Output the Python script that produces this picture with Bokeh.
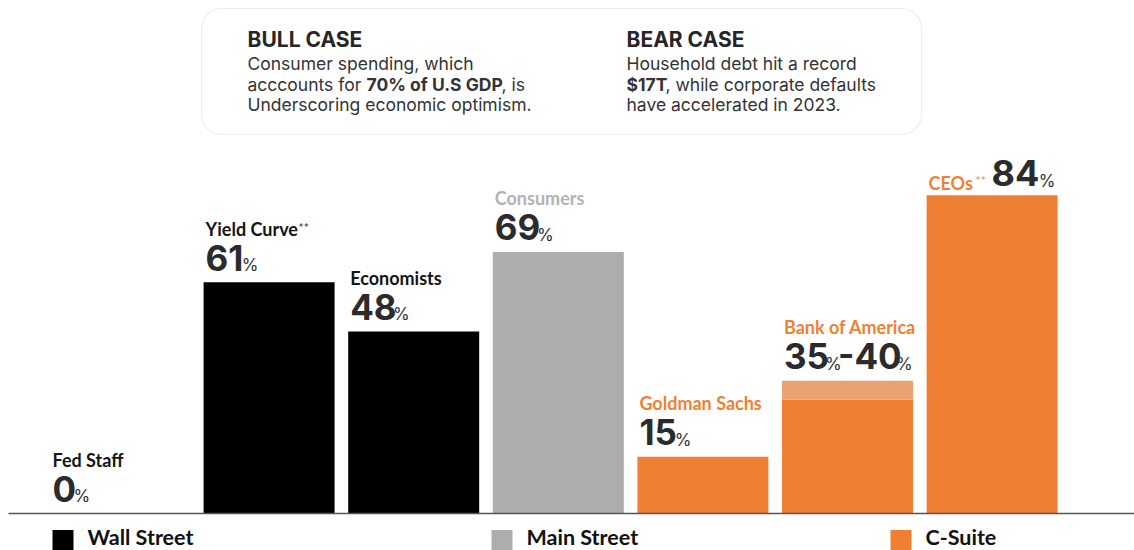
from bokeh.plotting import figure
from bokeh.models import Range1d, BoxAnnotation
from bokeh.core.properties import value
from bokeh.embed import file_html
from bokeh.resources import INLINE

# ---------------- data ----------------
categories = ["Fed Staff", "Yield Curve", "Economists", "Consumers",
              "Goldman Sachs", "Bank of America", "CEOs"]
groups = ["Wall Street", "Wall Street", "Wall Street", "Main Street",
          "C-Suite", "C-Suite", "C-Suite"]
values = [0, 61, 48, 69, 15, 35, 84]          # stated recession probability (%)
bofa_high = 40                                 # upper end of Bank of America range
bar_heights = [0, 61, 48, 69, 15, 30, 84]      # bar heights as drawn in the picture
bofa_bar_high = 35                             # top of the light BofA range segment
starred = ["Yield Curve", "CEOs"]
legend_labels = ["Wall Street", "Main Street", "C-Suite"]
group_colors = {"Wall Street": "#000000", "Main Street": "#adadac", "C-Suite": "#ee7f33"}
label_colors = {"Wall Street": "#151515", "Main Street": "#b3b3b3", "C-Suite": "#ee8133"}
range_color = "#eba172"

bull_title = "BULL CASE"
bull_lines = [["Consumer spending, which"],
              ["acccounts for ", "70% of U.S GDP", ", is"],
              ["Underscoring economic optimism."]]
bull_bold = [[False], [False, True, False], [False]]
bear_title = "BEAR CASE"
bear_lines = [["Household debt hit a record"],
              ["$17T", ", while corporate defaults"],
              ["have accelerated in 2023."]]
bear_bold = [[False], [True, False], [False]]

# ---------------- layout constants ----------------
W, H = 1134, 550
K = 3.79          # px per percentage point
BASE = 513        # baseline pixel row
STEP = 144.6
FIRST_LEFT = 58.5
BAR_W = 131
LAB_FONT = "Lato"
BODY_FONT = "Inter"
FS_BIG = 35
FS_PCT = 17
FS_LAB = 18
SHIFT = 0.42      # baseline compensation (fraction of font size)

DIGIT_W = {"0": 0.66, "1": 0.46, "2": 0.60, "3": 0.62, "4": 0.65, "5": 0.61,
           "6": 0.63, "7": 0.56, "8": 0.63, "9": 0.63, "-": 0.40}


def Y(py):
    return (BASE - py) / K


def big_w(s, fs=FS_BIG):
    return sum(DIGIT_W.get(ch, 0.6) for ch in s) * fs


p = figure(width=W, height=H, output_backend="svg", toolbar_location=None,
           x_axis_location=None, y_axis_location=None,
           x_range=Range1d(0, W), y_range=Range1d(Y(H), Y(0)),
           min_border=0, outline_line_color=None,
           background_fill_color="white", border_fill_color="white")
p.grid.grid_line_color = None

# ---------------- bars ----------------
lefts = [FIRST_LEFT + i * STEP for i in range(len(categories))]
centers = [l + BAR_W / 2 for l in lefts]
colors = [group_colors[g] for g in groups]
p.vbar(x=centers, top=bar_heights, bottom=0, width=BAR_W, color=colors, line_color=None)
bi = categories.index("Bank of America")
p.vbar(x=[centers[bi]], bottom=[bar_heights[bi]], top=[bofa_bar_high], width=BAR_W,
       color=range_color, line_color=None)

# baseline
p.segment(x0=[8], y0=[0], x1=[W], y1=[0], line_color="#555555", line_width=1.5)


def txt(x, y, s, size, color, bold=False, yoff=0, font=LAB_FONT):
    p.text(x=[x], y=[y], text=[s], text_font=value(font), text_font_size=f"{size}px",
           text_font_style="bold" if bold else "normal", text_color=color,
           text_baseline="alphabetic", text_align="left",
           y_offset=yoff - SHIFT * size)


# ---------------- labels ----------------
for i, cat in enumerate(categories):
    g = groups[i]
    top = bar_heights[i] if cat != "Bank of America" else bofa_bar_high
    lx = lefts[i] + 2 if i > 0 else 52
    lc = label_colors[g]
    if cat == "CEOs":
        txt(lx, top, cat, FS_LAB, lc, bold=True, yoff=-5)
        txt(lx + 47, top, "**", 12, "#f0a070", bold=True, yoff=-10)
        nx = lx + 63
        s = str(values[i])
        txt(nx, top, s, FS_BIG + 1, "#2b2b2b", bold=True, yoff=-7, font=BODY_FONT)
        txt(nx + big_w(s, FS_BIG + 1) + 1, top, "%", FS_PCT, "#333333", yoff=-7, font=BODY_FONT)
        continue
    txt(lx, top, cat, FS_LAB, lc, bold=True, yoff=-46)
    if cat in starred:
        txt(lx + 93, top, "**", 12, "#555555", bold=True, yoff=-50)
    s = str(values[i])
    txt(lx, top, s, FS_BIG, "#2b2b2b", bold=True, yoff=-10, font=BODY_FONT)
    px = lx + big_w(s) - 2
    txt(px, top, "%", FS_PCT, "#333333", yoff=-10, font=BODY_FONT)
    if cat == "Bank of America":
        s2 = "-" + str(bofa_high)
        x2 = px + 13
        txt(x2, top, s2, FS_BIG, "#2b2b2b", bold=True, yoff=-10, font=BODY_FONT)
        txt(x2 + big_w(s2) - 2, top, "%", FS_PCT, "#333333", yoff=-10, font=BODY_FONT)

# ---------------- info box ----------------
box = BoxAnnotation(left=201, right=921, top=Y(8), bottom=Y(134),
                    fill_color="white", fill_alpha=1.0,
                    line_color="#c4c4c4", line_width=1.2, border_radius=20,
                    level="underlay")
p.add_layout(box)

title_py = 48
line_py = [70, 91, 111]
txt(247, Y(title_py), bull_title, 21, "#262626", bold=True, font=BODY_FONT)
txt(626, Y(title_py), bear_title, 21, "#262626", bold=True, font=BODY_FONT)
bull_x_pos = [[247], [247, 366, 501], [247]]
bear_x_pos = [[626], [626, 665], [626]]
for lines, bolds, xs in ((bull_lines, bull_bold, bull_x_pos), (bear_lines, bear_bold, bear_x_pos)):
    for li, parts in enumerate(lines):
        for pi, part in enumerate(parts):
            txt(xs[li][pi], Y(line_py[li]), part, 17.5, "#333333", bold=bolds[li][pi], font=BODY_FONT)

# ---------------- legend ----------------
legend_x = [52, 491, 890]
for lx, lab in zip(legend_x, legend_labels):
    p.scatter(x=[lx + 10.5], y=[Y(540)], marker="square", size=21,
              fill_color=group_colors[lab], line_color=None)
    txt(lx + 35, Y(546), lab, 21.5, "#111111", bold=True)

open("out.html", "w").write(file_html(p, INLINE))
